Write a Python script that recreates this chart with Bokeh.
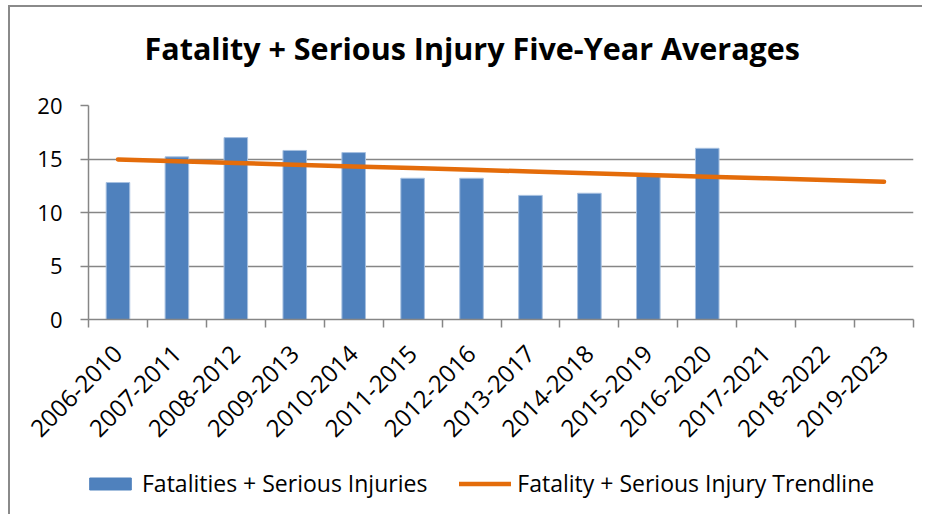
import math
from bokeh.plotting import figure
from bokeh.layouts import column
from bokeh.models import (ColumnDataSource, Range1d, FixedTicker, Legend, LegendItem,
                          Label)
from bokeh.embed import file_html
from bokeh.resources import INLINE

# ---- data ----
categories = ["2006-2010", "2007-2011", "2008-2012", "2009-2013", "2010-2014",
              "2011-2015", "2012-2016", "2013-2017", "2014-2018", "2015-2019",
              "2016-2020", "2017-2021", "2018-2022", "2019-2023"]
fsi_values = [12.8, 15.2, 17.0, 15.8, 15.6, 13.2, 13.2, 11.6, 11.8, 13.4, 16.0,
              None, None, None]
trend_values = [14.95, 14.79, 14.63, 14.47, 14.31, 14.15, 13.99, 13.83, 13.67,
                13.51, 13.35, 13.19, 13.03, 12.87]
y_ticks = [0, 5, 10, 15, 20]

title_text = "Fatality + Serious Injury Five-Year Averages"
bar_name = "Fatalities + Serious Injuries"
trend_name = "Fatality + Serious Injury Trendline"

FONT = "Open Sans"
GRID = "#868686"
BAR_FILL = "#4F81BD"
BAR_EDGE = "#A7C0E0"
TREND = "#E46C0A"
W = 912

n = len(categories)
xs = [i + 0.5 for i in range(n)]
bar_x = [x for x, v in zip(xs, fsi_values) if v is not None]
bar_v = [v for v in fsi_values if v is not None]

bar_src = ColumnDataSource(dict(x=bar_x, top=bar_v))
trend_src = ColumnDataSource(dict(x=xs, y=trend_values))

# ---- title strip ----
TH = 68
tt = figure(width=W, height=TH, output_backend="svg", toolbar_location=None,
            x_range=Range1d(0, 1), y_range=Range1d(0, TH),
            min_border=0, min_border_left=0, min_border_right=0,
            min_border_top=0, min_border_bottom=0)
tt.axis.visible = False
tt.grid.visible = False
tt.outline_line_color = None
tt.border_fill_color = "white"
tt.add_layout(Label(x=0, y=28, x_offset=56, text=title_text, text_font=FONT,
                    text_font_size="30.5px", text_font_style="bold",
                    text_color="#000000", text_align="left",
                    text_baseline="alphabetic"))

# ---- main chart ----
p = figure(width=W, height=385, output_backend="svg", toolbar_location=None,
           x_range=Range1d(0, n), y_range=Range1d(0, 20),
           min_border_left=78, min_border_right=9, min_border_top=30,
           min_border_bottom=141)
p.outline_line_color = None
p.background_fill_color = "white"
p.border_fill_color = "white"

p.vbar(x="x", top="top", width=0.4, source=bar_src,
       fill_color=BAR_FILL, line_color=BAR_EDGE, line_width=1)
p.line(x="x", y="y", source=trend_src, line_color=TREND,
       line_width=4.5, line_cap="round")

# x axis
xa = p.xaxis[0]
xa.ticker = FixedTicker(ticks=xs, minor_ticks=list(range(n + 1)))
xa.major_label_overrides = {x: c for x, c in zip(xs, categories)}
xa.major_label_orientation = math.pi / 4
xa.major_tick_out = 0
xa.major_tick_in = 0
xa.minor_tick_out = 8
xa.minor_tick_in = 0
xa.minor_tick_line_color = GRID
xa.minor_tick_line_width = 1.5
xa.axis_line_color = GRID
xa.axis_line_width = 1.5
xa.major_label_text_font = FONT
xa.major_label_text_font_size = "24px"
xa.major_label_text_color = "#000000"
xa.major_label_standoff = 22

# y axis
ya = p.yaxis[0]
ya.ticker = FixedTicker(ticks=y_ticks)
ya.major_tick_out = 8
ya.major_tick_in = 0
ya.major_tick_line_color = GRID
ya.major_tick_line_width = 1.5
ya.minor_tick_line_color = None
ya.axis_line_color = GRID
ya.axis_line_width = 1.5
ya.major_label_text_font = FONT
ya.major_label_text_font_size = "22px"
ya.major_label_text_color = "#000000"
ya.major_label_standoff = 18

p.xgrid.grid_line_color = None
p.ygrid.ticker = FixedTicker(ticks=y_ticks)
p.ygrid.grid_line_color = GRID
p.ygrid.grid_line_width = 1.5

# ---- legend strip (renderers share the data but lie outside its range) ----
lg = figure(width=W, height=54, output_backend="svg", toolbar_location=None,
            x_range=Range1d(100, 101), y_range=Range1d(100, 101),
            min_border=0, min_border_left=0, min_border_right=0,
            min_border_top=0, min_border_bottom=0)
lg.axis.visible = False
lg.grid.visible = False
lg.outline_line_color = None
lg.border_fill_color = "white"
leg_bar = lg.vbar(x="x", top="top", width=0.4, source=bar_src,
                  fill_color=BAR_FILL, line_color=BAR_FILL, line_width=1)
leg_line = lg.line(x="x", y="y", source=trend_src, line_color=TREND,
                   line_width=4.5, line_cap="round")

legend = Legend(items=[LegendItem(label=bar_name, renderers=[leg_bar]),
                       LegendItem(label=trend_name, renderers=[leg_line])],
                orientation="horizontal", location=(-4, 15))
legend.label_text_font = FONT
legend.label_text_font_size = "23px"
legend.label_text_color = "#000000"
legend.glyph_width = 52
legend.glyph_height = 15
legend.label_standoff = 6
legend.spacing = 32
legend.border_line_color = None
legend.background_fill_alpha = 0
legend.margin = 0
legend.padding = 0
lg.add_layout(legend, "center")

layout = column(tt, p, lg, spacing=0)
layout.styles = {"margin-left": "8px", "margin-top": "5px",
                 "border-left": "2px solid #8a8a8a",
                 "border-top": "2px solid #8a8a8a"}
open("out.html", "w").write(file_html(layout, INLINE))
